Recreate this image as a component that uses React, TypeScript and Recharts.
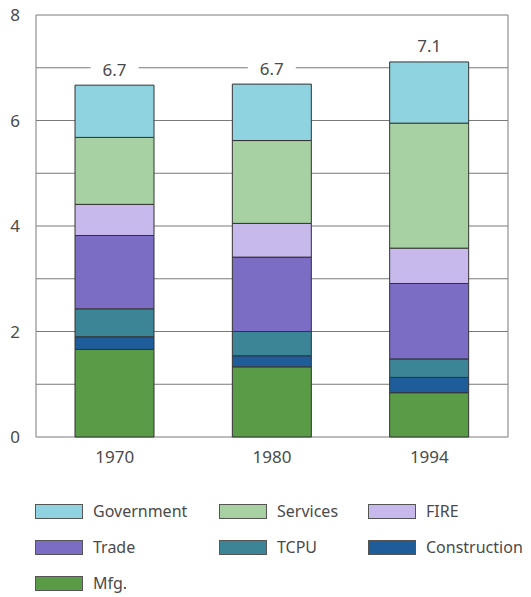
import React from "react";
import {
  BarChart,
  Bar,
  XAxis,
  YAxis,
  CartesianGrid,
  ReferenceArea,
  LabelList,
} from "recharts";

const years = ["1970", "1980", "1994"];
const mfg = [1.66, 1.33, 0.84];
const construction = [0.24, 0.21, 0.29];
const tcpu = [0.53, 0.46, 0.35];
const trade = [1.39, 1.41, 1.43];
const fire = [0.59, 0.64, 0.67];
const services = [1.27, 1.57, 2.37];
const government = [0.99, 1.07, 1.16];
const totals = ["6.7", "6.7", "7.1"];
const yTicks = [0, 2, 4, 6, 8];
const gridValues = [1, 2, 3, 4, 5, 6, 7];

const data = years.map((year, i) => ({
  year,
  mfg: mfg[i],
  construction: construction[i],
  tcpu: tcpu[i],
  trade: trade[i],
  fire: fire[i],
  services: services[i],
  government: government[i],
  total: totals[i],
}));

const series = [
  { key: "mfg", name: "Mfg.", color: "#5a9b48" },
  { key: "construction", name: "Construction", color: "#1e5d9a" },
  { key: "tcpu", name: "TCPU", color: "#3c8596" },
  { key: "trade", name: "Trade", color: "#7b6cc4" },
  { key: "fire", name: "FIRE", color: "#c7b9ec" },
  { key: "services", name: "Services", color: "#a7d1a2" },
  { key: "government", name: "Government", color: "#8ed3df" },
];

const legendOrder = [
  "government",
  "services",
  "fire",
  "trade",
  "tcpu",
  "construction",
  "mfg",
];

const font = "'Noto Sans', sans-serif";
const textColor = "#4a4a4a";

const TotalLabel = (props: any) => {
  const { x, y, width, value } = props;
  const cx = x + width / 2;
  const cy = y - 16;
  return (
    <g>
      <rect x={cx - 24} y={cy - 9} width={48} height={18} fill="#fff" />
      <text
        x={cx}
        y={cy}
        textAnchor="middle"
        dominantBaseline="central"
        fontSize={17}
        fontFamily={font}
        fill={textColor}
      >
        {value}
      </text>
    </g>
  );
};

const columns = [18, 202, 351];

export default function App() {
  return (
    <div
      style={{
        position: "absolute",
        left: 0,
        top: 0,
        width: 531,
        height: 597,
        background: "#fff",
        fontFamily: font,
      }}
    >
      <BarChart
        width={531}
        height={470}
        data={data}
        margin={{ top: 15, right: 23, bottom: 3, left: 0 }}
        barSize={79}
      >
        <CartesianGrid
          vertical={false}
          horizontalValues={gridValues}
          stroke="#7a7a7a"
          strokeWidth={1}
        />
        <ReferenceArea
          y1={0}
          y2={8}
          fill="none"
          fillOpacity={0}
          stroke="#7a7a7a"
          strokeWidth={1}
        />
        <XAxis
          dataKey="year"
          height={30}
          axisLine={false}
          tickLine={false}
          tick={{ fill: textColor, fontSize: 17, fontFamily: font }}
          tickMargin={8}
        />
        <YAxis
          width={36}
          domain={[0, 8]}
          ticks={yTicks}
          axisLine={false}
          tickLine={false}
          tick={{ fill: textColor, fontSize: 17, fontFamily: font }}
          tickMargin={10}
        />
        {series.map((s, i) => (
          <Bar
            key={s.key}
            dataKey={s.key}
            name={s.name}
            stackId="a"
            fill={s.color}
            stroke="#333"
            strokeWidth={1}
            isAnimationActive={false}
          >
            {i === series.length - 1 && (
              <LabelList dataKey="total" content={TotalLabel} />
            )}
          </Bar>
        ))}
      </BarChart>
      {legendOrder.map((key, i) => {
        const s = series.find((d) => d.key === key)!;
        const col = i % 3;
        const row = Math.floor(i / 3);
        return (
          <div
            key={key}
            style={{
              position: "absolute",
              left: columns[col] + 17,
              top: 500 + row * 36,
              display: "flex",
              alignItems: "center",
              height: 22,
            }}
          >
            <span
              style={{
                display: "inline-block",
                width: 46,
                height: 13,
                background: s.color,
                border: "1px solid #555",
                marginRight: 10,
              }}
            />
            <span style={{ fontSize: 16, color: textColor }}>{s.name}</span>
          </div>
        );
      })}
    </div>
  );
}
